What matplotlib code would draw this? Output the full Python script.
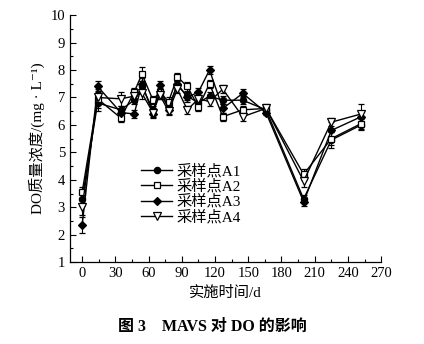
import matplotlib
matplotlib.use("Agg")
import matplotlib.pyplot as plt
from matplotlib.ticker import MultipleLocator
from matplotlib.lines import Line2D

plt.rcParams['font.family'] = ['Liberation Serif', 'Noto Sans CJK SC', 'DejaVu Serif']
plt.rcParams['axes.unicode_minus'] = False

days = [0, 14, 35, 47, 54, 64, 70, 78, 86, 95, 105, 115, 127, 145, 166, 200, 225, 252]

a1 = [3.30, 6.80, 6.55, 6.90, 7.40, 6.55, 7.15, 6.65, 7.45, 7.05, 6.80, 7.05, 6.90, 6.90, 6.55, 3.30, 5.45, 6.00]
a2 = [3.55, 6.95, 6.25, 7.20, 7.85, 6.90, 7.20, 6.85, 7.75, 7.40, 6.65, 7.50, 6.30, 6.55, 6.60, 4.20, 5.50, 6.05]
a3 = [2.35, 7.40, 6.45, 6.40, 7.50, 6.40, 7.45, 6.55, 7.50, 7.00, 7.20, 8.00, 6.60, 7.15, 6.45, 3.20, 5.80, 6.30]
a4 = [3.00, 7.00, 6.95, 7.05, 7.15, 6.45, 7.10, 6.50, 7.30, 6.55, 6.95, 6.85, 7.30, 6.30, 6.60, 3.95, 6.10, 6.40]

e1 = [0.25, 0.30, 0.15, 0.15, 0.20, 0.15, 0.20, 0.15, 0.15, 0.15, 0.15, 0.15, 0.15, 0.15, 0.10, 0.15, 0.30, 0.20]
e2 = [0.20, 0.35, 0.15, 0.15, 0.25, 0.15, 0.20, 0.15, 0.15, 0.15, 0.15, 0.15, 0.15, 0.15, 0.10, 0.20, 0.25, 0.20]
e3 = [0.30, 0.20, 0.15, 0.15, 0.20, 0.15, 0.15, 0.15, 0.15, 0.15, 0.15, 0.15, 0.15, 0.15, 0.10, 0.15, 0.30, 0.20]
e4 = [0.30, 0.25, 0.25, 0.15, 0.20, 0.15, 0.15, 0.15, 0.15, 0.15, 0.15, 0.15, 0.15, 0.15, 0.15, 0.20, 0.15, 0.35]

labels = ['采样点A1', '采样点A2', '采样点A3', '采样点A4']

series = [
    (a1, e1, dict(marker='o', mfc='black', ms=4.5)),
    (a2, e2, dict(marker='s', mfc='white', ms=5)),
    (a3, e3, dict(marker='D', mfc='black', ms=4)),
    (a4, e4, dict(marker='v', mfc='white', ms=6)),
]

fig = plt.figure(figsize=(4.24, 3.44), dpi=100)
ax = fig.add_axes([0.165, 0.238, 0.734, 0.718])

handles = []
for (vals, err, style), lab in zip(series, labels):
    ax.errorbar(days, vals, yerr=err, color='black', lw=1.0, mec='black',
                mew=0.9, capsize=2.5, elinewidth=0.8, capthick=0.8, **style)
    handles.append(Line2D([], [], color='black', lw=1.0, mec='black',
                          mew=0.9, label=lab, **style))

ax.set_xlim(-11, 270)
ax.set_ylim(1, 10)
ax.xaxis.set_major_locator(MultipleLocator(30))
ax.xaxis.set_minor_locator(MultipleLocator(15))
ax.yaxis.set_major_locator(MultipleLocator(1))
ax.yaxis.set_minor_locator(MultipleLocator(0.5))
ax.tick_params(which='both', direction='in', labelsize=10.5, width=0.8)
ax.tick_params(which='major', length=4)
ax.tick_params(which='minor', length=2)
for side in ('top', 'right'):
    ax.spines[side].set_visible(False)
for side in ('left', 'bottom'):
    ax.spines[side].set_linewidth(0.9)

ax.set_xlabel('实施时间/d', fontsize=11)
ax.set_ylabel('DO质量浓度/(mg · L⁻¹)', fontsize=11)

ax.legend(handles=handles, loc='upper left', bbox_to_anchor=(0.2, 0.435),
          frameon=False, fontsize=11, handlelength=2.0, handletextpad=0.3,
          labelspacing=0.05, borderpad=0.1)

fig.text(0.5, 0.05, '图 3    MAVS 对 DO 的影响', ha='center', va='center',
         fontsize=11.5, fontweight='bold')

fig.savefig('out.png', dpi=100)
